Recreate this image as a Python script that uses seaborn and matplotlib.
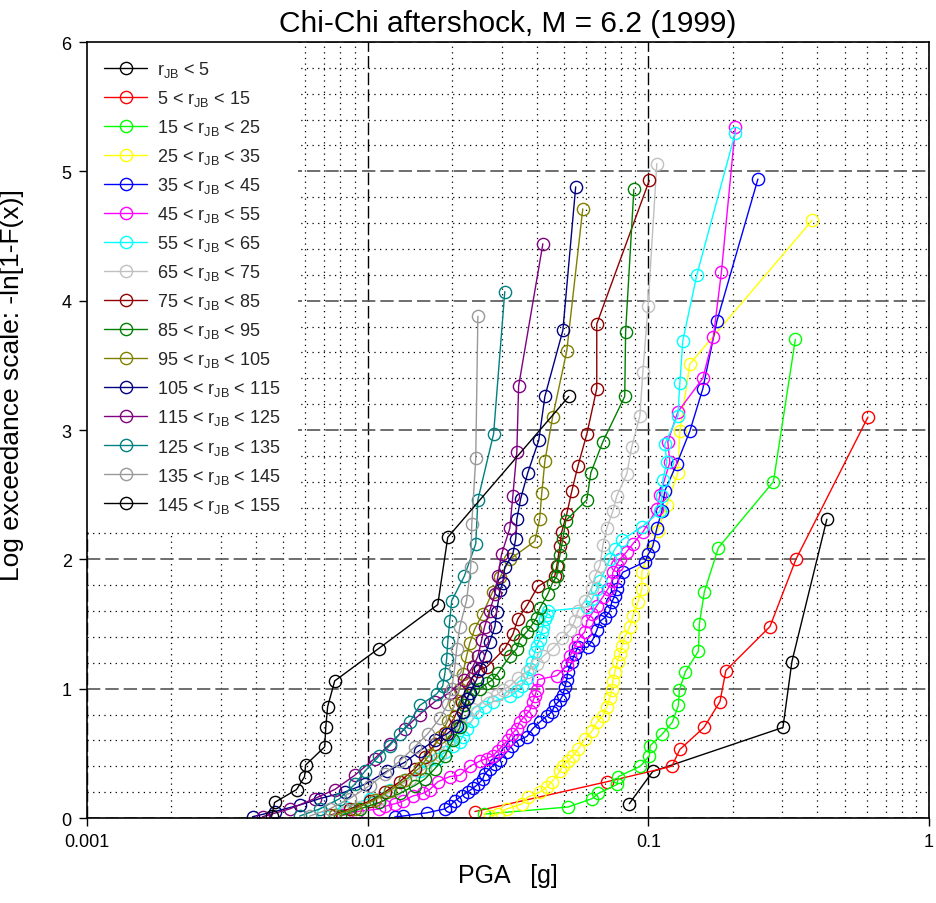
import numpy as np
import pandas as pd
import matplotlib
matplotlib.use("Agg")
import matplotlib.pyplot as plt
import seaborn as sns
from matplotlib.ticker import FixedLocator, MultipleLocator, NullFormatter, LogLocator

# ---------------- data (PGA in g, y = -ln[1-F(x)]) ----------------
labels = [
    r"r$_{JB}$ < 5", r"5 < r$_{JB}$ < 15", r"15 < r$_{JB}$ < 25", r"25 < r$_{JB}$ < 35",
    r"35 < r$_{JB}$ < 45", r"45 < r$_{JB}$ < 55", r"55 < r$_{JB}$ < 65", r"65 < r$_{JB}$ < 75",
    r"75 < r$_{JB}$ < 85", r"85 < r$_{JB}$ < 95", r"95 < r$_{JB}$ < 105", r"105 < r$_{JB}$ < 115",
    r"115 < r$_{JB}$ < 125", r"125 < r$_{JB}$ < 135", r"135 < r$_{JB}$ < 145", r"145 < r$_{JB}$ < 155",
]
colors = ["#000000", "#FF0000", "#00FF00", "#FFFF00", "#0000FF", "#FF00FF", "#00FFFF", "#C0C0C0",
          "#900000", "#008000", "#808000", "#000080", "#800080", "#008080", "#999999", "#000000"]

x_r0 = [0.0855, 0.1037, 0.3017, 0.3248, 0.4326]
y_r0 = [0.11, 0.36, 0.70, 1.21, 2.31]

x_r10 = [0.0241, 0.0711, 0.1213, 0.1295, 0.1578, 0.180, 0.1889, 0.2712, 0.3356, 0.606]
y_r10 = [0.05, 0.28, 0.40, 0.53, 0.70, 0.90, 1.14, 1.48, 2.00, 3.10]

x_r20 = [0.0260, 0.0518, 0.0631, 0.0663, 0.0775, 0.0782, 0.0936, 0.1008, 0.1016, 0.1122,
         0.1218, 0.1279, 0.1290, 0.1355, 0.1508, 0.152, 0.1584, 0.1777, 0.279, 0.334]
y_r20 = [0.03, 0.085, 0.15, 0.19, 0.26, 0.32, 0.40, 0.48, 0.56, 0.65,
         0.74, 0.87, 0.99, 1.13, 1.29, 1.50, 1.75, 2.09, 2.60, 3.70]

x_r30 = [0.0272, 0.0291, 0.0313, 0.0354, 0.0372, 0.0410, 0.0435, 0.0453, 0.0484, 0.0496,
         0.0516, 0.0538, 0.0561, 0.0594, 0.0629, 0.0655, 0.0689, 0.0711, 0.0729, 0.0741,
         0.0747, 0.0760, 0.0778, 0.0791, 0.0805, 0.0824, 0.0859, 0.0881, 0.0918, 0.0948,
         0.0948, 0.0998, 0.108, 0.1164, 0.1274, 0.1295, 0.1405, 0.383]
y_r30 = [0.015, 0.03, 0.07, 0.108, 0.162, 0.20, 0.24, 0.28, 0.36, 0.40,
         0.44, 0.48, 0.53, 0.61, 0.67, 0.74, 0.79, 0.86, 0.93, 0.99,
         1.06, 1.13, 1.21, 1.27, 1.33, 1.40, 1.48, 1.56, 1.67, 1.77,
         1.90, 2.05, 2.22, 2.42, 2.67, 2.99, 3.51, 4.62]

x_r40 = [0.01248, 0.01333, 0.01623, 0.01882, 0.0196, 0.0204, 0.0216, 0.0227, 0.0237, 0.0247,
         0.0257, 0.0261, 0.0272, 0.0284, 0.0296, 0.0313, 0.0326, 0.0343, 0.0369, 0.0387,
         0.0410, 0.0435, 0.0453, 0.0464, 0.0484, 0.0496, 0.0504, 0.0512, 0.0516, 0.0534,
         0.0547, 0.0561, 0.0608, 0.0634, 0.0655, 0.0672, 0.0700, 0.0729, 0.0741, 0.0760,
         0.0772, 0.0778, 0.0811, 0.0972, 0.100, 0.1037, 0.1072, 0.1117, 0.1145, 0.1264,
         0.1405, 0.1564, 0.1754, 0.2457]
y_r40 = [0.008, 0.015, 0.04, 0.07, 0.093, 0.13, 0.17, 0.20, 0.23, 0.26,
         0.30, 0.34, 0.38, 0.42, 0.45, 0.51, 0.56, 0.60, 0.63, 0.69,
         0.74, 0.79, 0.82, 0.87, 0.91, 0.95, 1.01, 1.07, 1.13, 1.21,
         1.27, 1.32, 1.32, 1.38, 1.45, 1.52, 1.55, 1.60, 1.67, 1.72,
         1.77, 1.83, 1.90, 1.98, 2.04, 2.10, 2.24, 2.37, 2.53, 2.74,
         2.99, 3.32, 3.84, 4.94]

x_r50 = [0.00815, 0.00914, 0.0110, 0.0115, 0.01248, 0.01333, 0.01447, 0.0157, 0.01664, 0.01777,
         0.0196, 0.0213, 0.0231, 0.0251, 0.0266, 0.0279, 0.0291, 0.0303, 0.0316, 0.0326,
         0.0340, 0.0348, 0.0363, 0.0378, 0.0387, 0.0394, 0.0400, 0.0404, 0.0472, 0.0512,
         0.0525, 0.0547, 0.0561, 0.0594, 0.0604, 0.0629, 0.0655, 0.0689, 0.0717, 0.0741,
         0.0747, 0.0772, 0.0791, 0.0838, 0.0881, 0.0956, 0.1072, 0.110, 0.1193, 0.1173,
         0.1274, 0.1564, 0.1705, 0.1821, 0.2042]
y_r50 = [0.02, 0.05, 0.07, 0.09, 0.11, 0.13, 0.17, 0.19, 0.22, 0.28,
         0.32, 0.33, 0.40, 0.44, 0.46, 0.48, 0.52, 0.56, 0.60, 0.65,
         0.69, 0.74, 0.79, 0.83, 0.90, 0.94, 0.99, 1.07, 1.10, 1.18,
         1.25, 1.32, 1.38, 1.44, 1.52, 1.58, 1.64, 1.71, 1.77, 1.83,
         1.90, 1.96, 2.00, 2.06, 2.12, 2.21, 2.39, 2.50, 2.75, 2.91,
         3.14, 3.40, 3.72, 4.22, 5.34]

x_r60 = [0.00691, 0.00828, 0.01016, 0.01198, 0.01355, 0.01532, 0.01623, 0.01762, 0.01882, 0.0201,
         0.0213, 0.0218, 0.0225, 0.02349, 0.02446, 0.0261, 0.0279, 0.0321, 0.0340, 0.0354,
         0.0369, 0.0378, 0.0384, 0.0394, 0.0400, 0.0410, 0.0417, 0.0421, 0.0428, 0.0435,
         0.0438, 0.0604, 0.0629, 0.0655, 0.0672, 0.0729, 0.0760, 0.0805, 0.0948, 0.110,
         0.1117, 0.1126, 0.1164, 0.1145, 0.1274, 0.1295, 0.1327, 0.1489, 0.2042]
y_r60 = [0.04, 0.085, 0.15, 0.22, 0.29, 0.36, 0.43, 0.46, 0.51, 0.56,
         0.59, 0.63, 0.69, 0.75, 0.82, 0.86, 0.90, 0.94, 0.98, 1.02,
         1.08, 1.15, 1.21, 1.28, 1.33, 1.38, 1.44, 1.48, 1.54, 1.57,
         1.60, 1.63, 1.69, 1.77, 1.83, 2.00, 2.08, 2.15, 2.25, 2.37,
         2.49, 2.61, 2.75, 2.89, 3.11, 3.36, 3.69, 4.20, 5.30]

x_r70 = [0.00732, 0.00828, 0.00937, 0.0110, 0.01248, 0.01411, 0.01596, 0.01806, 0.0196, 0.0213,
         0.0225, 0.0237, 0.0266, 0.0288, 0.0303, 0.0321, 0.0343, 0.0369, 0.0400, 0.0421,
         0.0456, 0.0491, 0.0525, 0.0547, 0.0561, 0.0594, 0.0629, 0.0645, 0.0672, 0.0689,
         0.0711, 0.0747, 0.0772, 0.0838, 0.0873, 0.0933, 0.0956, 0.0998, 0.1072]
y_r70 = [0.015, 0.05, 0.085, 0.15, 0.22, 0.30, 0.38, 0.49, 0.61, 0.73,
         0.79, 0.84, 0.93, 0.95, 0.99, 1.02, 1.08, 1.13, 1.19, 1.25,
         1.31, 1.39, 1.45, 1.52, 1.60, 1.68, 1.78, 1.87, 1.95, 2.11,
         2.24, 2.37, 2.49, 2.66, 2.87, 3.11, 3.45, 3.96, 5.06]

x_r80 = [0.00732, 0.00862, 0.01016, 0.0115, 0.0130, 0.0147, 0.01596, 0.01734, 0.01882, 0.0204,
         0.0216, 0.0227, 0.0247, 0.0266, 0.0308, 0.0329, 0.0343, 0.0369, 0.0404, 0.0464,
         0.0472, 0.0484, 0.0491, 0.0512, 0.0534, 0.0561, 0.0604, 0.0655, 0.0655, 0.1008]
y_r80 = [0.02, 0.07, 0.13, 0.20, 0.28, 0.38, 0.47, 0.57, 0.66, 0.78,
         0.90, 1.04, 1.14, 1.17, 1.31, 1.42, 1.54, 1.64, 1.79, 1.87,
         1.95, 2.10, 2.21, 2.35, 2.53, 2.72, 2.97, 3.32, 3.82, 4.93]

x_r90 = [0.00795, 0.00937, 0.0110, 0.0130, 0.0147, 0.01596, 0.01734, 0.01882, 0.0201, 0.0213,
         0.0218, 0.0221, 0.0227, 0.0237, 0.0251, 0.0266, 0.0279, 0.0291, 0.0321, 0.0340,
         0.0348, 0.0369, 0.0384, 0.0400, 0.0410, 0.0438, 0.0456, 0.0472, 0.0476, 0.0484,
         0.0496, 0.0508, 0.0604, 0.0624, 0.0689, 0.0824, 0.0830, 0.0888]
y_r90 = [0.015, 0.07, 0.12, 0.19, 0.25, 0.30, 0.38, 0.48, 0.60, 0.70,
         0.82, 0.87, 0.93, 1.00, 1.00, 1.04, 1.07, 1.12, 1.25, 1.31,
         1.38, 1.44, 1.49, 1.55, 1.62, 1.73, 1.82, 1.87, 1.95, 2.03,
         2.16, 2.30, 2.46, 2.67, 2.91, 3.26, 3.76, 4.86]

x_r100 = [0.00763, 0.00899, 0.01059, 0.01198, 0.01355, 0.01532, 0.01664, 0.01806, 0.01929, 0.0204,
          0.0213, 0.0218, 0.0225, 0.0231, 0.02406, 0.0257, 0.0279, 0.0296, 0.0321, 0.0394,
          0.0410, 0.0417, 0.0428, 0.0456, 0.0512, 0.0584]
y_r100 = [0.02, 0.07, 0.14, 0.21, 0.29, 0.39, 0.49, 0.63, 0.75, 0.88,
          1.00, 1.11, 1.25, 1.35, 1.46, 1.58, 1.75, 1.86, 2.00, 2.14,
          2.31, 2.51, 2.76, 3.10, 3.61, 4.71]

x_r110 = [0.00389, 0.00466, 0.00572, 0.00675, 0.00828, 0.00976, 0.01169, 0.01355, 0.01532, 0.01734,
          0.01912, 0.02076, 0.0218, 0.0225, 0.0231, 0.02446, 0.0251, 0.0261, 0.0272, 0.0284,
          0.0288, 0.0296, 0.0303, 0.0308, 0.0329, 0.0337, 0.0340, 0.0351, 0.0372, 0.0407,
          0.0428, 0.0496, 0.0551]
y_r110 = [0.01, 0.05, 0.10, 0.15, 0.20, 0.26, 0.36, 0.43, 0.52, 0.60,
          0.65, 0.71, 0.82, 0.92, 0.97, 1.07, 1.15, 1.25, 1.36, 1.48,
          1.59, 1.76, 1.82, 1.94, 2.04, 2.16, 2.31, 2.47, 2.67, 2.92,
          3.26, 3.77, 4.88]

x_r120 = [0.00422, 0.00527, 0.00647, 0.00763, 0.00899, 0.01059, 0.01198, 0.01355, 0.01532, 0.01734,
          0.0196, 0.0221, 0.0237, 0.0247, 0.0255, 0.0261, 0.0272, 0.0284, 0.0291, 0.0300,
          0.0321, 0.0329, 0.0340, 0.0345, 0.0421]
y_r120 = [0.01, 0.07, 0.15, 0.22, 0.33, 0.46, 0.57, 0.69, 0.80, 0.90,
          0.97, 1.07, 1.17, 1.25, 1.38, 1.48, 1.60, 1.73, 1.87, 2.04,
          2.24, 2.49, 2.83, 3.34, 4.44]

x_r130 = [0.00572, 0.00675, 0.00795, 0.00899, 0.00976, 0.0110, 0.01198, 0.0130, 0.01411, 0.01532,
          0.01762, 0.01850, 0.01882, 0.01912, 0.01929, 0.0196, 0.01992, 0.0221, 0.02427, 0.0247,
          0.0281, 0.0308]
y_r130 = [0.015, 0.07, 0.15, 0.26, 0.36, 0.48, 0.56, 0.65, 0.74, 0.87,
          0.96, 1.02, 1.11, 1.23, 1.36, 1.52, 1.68, 1.87, 2.12, 2.46,
          2.97, 4.07]

x_r140 = [0.00621, 0.00732, 0.00862, 0.01016, 0.0115, 0.0130, 0.0147, 0.01636, 0.01806, 0.01929,
          0.01992, 0.0204, 0.02076, 0.0213, 0.0225, 0.02329, 0.02349, 0.02427, 0.0247]
y_r140 = [0.015, 0.07, 0.15, 0.25, 0.34, 0.44, 0.55, 0.65, 0.77, 0.88,
          1.00, 1.15, 1.31, 1.48, 1.68, 1.94, 2.27, 2.78, 3.88]

x_r150 = [0.00455, 0.00466, 0.00558, 0.00596, 0.00601, 0.00703, 0.00709, 0.00720, 0.00763, 0.01094,
          0.01777, 0.01929, 0.0521]
y_r150 = [0.015, 0.12, 0.22, 0.32, 0.41, 0.55, 0.70, 0.86, 1.06, 1.31,
          1.65, 2.17, 3.26]

xs_all = [x_r0, x_r10, x_r20, x_r30, x_r40, x_r50, x_r60, x_r70,
          x_r80, x_r90, x_r100, x_r110, x_r120, x_r130, x_r140, x_r150]
ys_all = [y_r0, y_r10, y_r20, y_r30, y_r40, y_r50, y_r60, y_r70,
          y_r80, y_r90, y_r100, y_r110, y_r120, y_r130, y_r140, y_r150]

x_ticks = [0.001, 0.01, 0.1, 1]
x_ticklabels = ["0.001", "0.01", "0.1", "1"]
y_ticks = [0, 1, 2, 3, 4, 5, 6]

# ---------------- style ----------------
sns.set_theme(style="white")
plt.rcParams["font.family"] = ["Liberation Sans", "DejaVu Sans"]
plt.rcParams["mathtext.fontset"] = "custom"
plt.rcParams["mathtext.rm"] = "Liberation Sans"
plt.rcParams["mathtext.it"] = "Liberation Sans"
plt.rcParams["mathtext.default"] = "regular"

fig = plt.figure(figsize=(9.37, 9.04), dpi=100)
ax = fig.add_axes([87 / 937, 1 - 819 / 904, (929 - 87) / 937, (819 - 43) / 904])

for lab, col, xs, ys in zip(labels, colors, xs_all, ys_all):
    d = pd.DataFrame({"PGA": xs, "Y": ys})
    sns.lineplot(data=d, x="PGA", y="Y", sort=False, estimator=None, ax=ax,
                 color=col, linewidth=1.0, marker="o", markersize=8.8,
                 markerfacecolor="none", markeredgecolor=col, markeredgewidth=1.0,
                 label=lab, legend=False)

ax.set_xscale("log")
ax.set_xlim(0.001, 1)
ax.set_ylim(0, 6)

ax.xaxis.set_major_locator(FixedLocator(x_ticks))
ax.set_xticklabels(x_ticklabels)
ax.xaxis.set_minor_locator(LogLocator(base=10, subs=np.arange(2, 10)))
ax.xaxis.set_minor_formatter(NullFormatter())
ax.yaxis.set_major_locator(FixedLocator(y_ticks))
ax.yaxis.set_minor_locator(MultipleLocator(0.2))

ax.tick_params(which="major", direction="out", length=6, width=1, labelsize=13, pad=5,
               color="black", labelcolor="black", bottom=True, left=True)
ax.tick_params(which="minor", length=0)

ax.grid(which="minor", axis="both", color="black", linestyle=(0, (1, 3.5)), linewidth=0.9)
ax.xaxis.grid(True, which="major", color="black", linestyle=(0, (9, 3)), linewidth=1.0)
ax.yaxis.grid(True, which="major", color="#555555", linestyle=(0, (8, 3)), linewidth=1.2)
ax.set_axisbelow(True)

for s in ax.spines.values():
    s.set_color("black")
    s.set_linewidth(1.2)
    s.set_zorder(10)

ax.set_title("Chi-Chi aftershock, M = 6.2 (1999)", fontsize=21.5, color="black", pad=8)
ax.set_xlabel("PGA   [g]", fontsize=18, color="black")
ax.set_ylabel("Log exceedance scale: -ln[1-F(x)]", fontsize=19, color="black")
ax.xaxis.set_label_coords(0.5, -0.058)
ax.yaxis.set_label_coords(-0.075, 0.559)

leg = ax.legend(loc="upper left", bbox_to_anchor=(0.0, 1.0), frameon=True, fontsize=13,
                handlelength=2.4, handletextpad=0.55, labelspacing=0.5,
                borderaxespad=0.0, borderpad=0.95, fancybox=False, framealpha=1.0)
leg.get_frame().set_facecolor("white")
leg.get_frame().set_edgecolor("none")
leg.set_zorder(5)

fig.savefig("out.png", dpi=100, facecolor="white")
